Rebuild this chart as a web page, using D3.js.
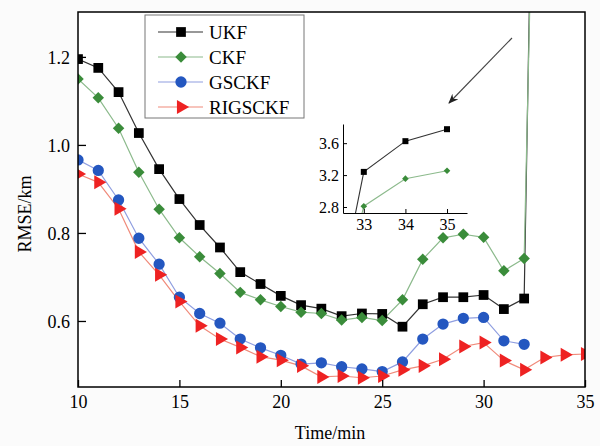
<!DOCTYPE html>
<html>
<head>
<meta charset="utf-8">
<script src="https://cdn.jsdelivr.net/npm/d3@7/dist/d3.min.js"></script>
<style>
  body { margin: 0; background: #fbfbfb; }
  svg { display: block; font-family: "Liberation Serif", "Times New Roman", serif; }
</style>
</head>
<body>
<svg id="chart" width="600" height="446"></svg>
<script>
// data (time in minutes, RMSE in km)
var times = [10,11,12,13,14,15,16,17,18,19,20,21,22,23,24,25,26,27,28,29,30,31,32,33,34,35];
var ukf    = [1.195,1.175,1.12,1.027,0.945,0.877,0.818,0.767,0.711,0.684,0.657,0.636,0.628,0.611,0.617,0.616,0.587,0.638,0.654,0.654,0.659,0.627,0.651,3.24,3.625,3.775];
var ckf    = [1.15,1.107,1.038,0.938,0.854,0.789,0.746,0.708,0.665,0.648,0.633,0.620,0.617,0.602,0.608,0.601,0.648,0.740,0.789,0.797,0.790,0.714,0.742,2.81,3.155,3.255];
var gsckf  = [0.966,0.942,0.875,0.788,0.729,0.654,0.617,0.595,0.559,0.539,0.522,0.502,0.505,0.496,0.491,0.485,0.507,0.559,0.593,0.606,0.608,0.555,0.547];
var rigsckf= [0.934,0.915,0.855,0.757,0.705,0.644,0.589,0.559,0.540,0.519,0.511,0.498,0.473,0.475,0.471,0.475,0.489,0.498,0.513,0.542,0.551,0.510,0.489,0.517,0.523,0.525];
var xTicks = [10,15,20,25,30,35];
var yTicks = [0.6,0.8,1.0,1.2];
var insetXTicks = [33,34,35];
var insetYTicks = [2.8,3.2,3.6];

var series = [
  {name:"UKF",     values:ukf,     line:"#333333", fill:"#000000", sym:d3.symbolSquare,   size:95,  rot:0},
  {name:"CKF",     values:ckf,     line:"#8cba8c", fill:"#3a8c3a", sym:d3.symbolSquare,   size:66,  rot:45},
  {name:"GSCKF",   values:gsckf,   line:"#8f9ee0", fill:"#2457c0", sym:d3.symbolCircle,   size:100, rot:0},
  {name:"RIGSCKF", values:rigsckf, line:"#f08a7a", fill:"#ee2222", sym:d3.symbolTriangle, size:85,  rot:90}
];

var svg = d3.select("#chart");
var pLeft = 78, pRight = 585, pTop = 12, pBottom = 387;

var x = d3.scaleLinear().domain([10,35]).range([pLeft,pRight]);
var y = d3.scaleLinear().domain([0.45,1.302]).range([pBottom,pTop]);

svg.append("clipPath").attr("id","plotClip")
  .append("rect").attr("x",pLeft).attr("y",pTop).attr("width",pRight-pLeft).attr("height",pBottom-pTop);

svg.append("rect").attr("x",pLeft).attr("y",pTop).attr("width",pRight-pLeft).attr("height",pBottom-pTop)
  .attr("fill","#ffffff");

function pts(s){
  return s.values.map(function(v,i){ return [times[i],v]; });
}

var plot = svg.append("g").attr("clip-path","url(#plotClip)");

series.forEach(function(s){
  var line = d3.line().x(function(d){ return x(d[0]); }).y(function(d){ return y(d[1]); });
  plot.append("path").datum(pts(s))
    .attr("d",line)
    .attr("fill","none")
    .attr("stroke",s.line)
    .attr("stroke-width",1.2);
});
series.forEach(function(s){
  plot.selectAll(".m"+s.name).data(pts(s)).enter()
    .append("path")
    .attr("d",d3.symbol().type(s.sym).size(s.size))
    .attr("transform",function(d){ return "translate("+x(d[0])+","+y(d[1])+") rotate("+s.rot+")"; })
    .attr("fill",s.fill);
});

// axes, ticks inward
var gx = svg.append("g").attr("transform","translate(0,"+pBottom+")")
  .call(d3.axisBottom(x).tickValues(xTicks).tickSizeInner(-7).tickSizeOuter(0).tickPadding(8));
var gy = svg.append("g").attr("transform","translate("+pLeft+",0)")
  .call(d3.axisLeft(y).tickValues(yTicks).tickFormat(d3.format(".1f")).tickSizeInner(-8).tickSizeOuter(0).tickPadding(8));
[gx,gy].forEach(function(g){
  g.select(".domain").remove();
  g.selectAll("line").attr("stroke","#000").attr("stroke-width",1.3);
  g.selectAll("text").attr("fill","#000").style("font-size","18px").style("font-family","Liberation Serif, serif");
});
gy.selectAll("text").attr("dy","0.35em");

svg.append("rect").attr("x",pLeft).attr("y",pTop).attr("width",pRight-pLeft).attr("height",pBottom-pTop)
  .attr("fill","none").attr("stroke","#000").attr("stroke-width",1.5);

svg.append("text")
  .attr("x",330).attr("y",439)
  .attr("text-anchor","middle")
  .style("font-size","18px")
  .text("Time/min");

svg.append("text")
  .attr("transform","translate(31,214) rotate(-90)")
  .attr("text-anchor","middle")
  .style("font-size","18px")
  .text("RMSE/km");

// legend
var legend = svg.append("g");
legend.append("rect").attr("x",145).attr("y",15).attr("width",159).attr("height",103)
  .attr("fill","#ffffff").attr("stroke","#777").attr("stroke-width",1);
series.forEach(function(s,i){
  var ly = 32 + i*25;
  legend.append("line").attr("x1",158).attr("x2",203).attr("y1",ly).attr("y2",ly)
    .attr("stroke",s.line).attr("stroke-width",1.2);
  legend.append("path")
    .attr("d",d3.symbol().type(s.sym).size(s.size))
    .attr("transform","translate(181,"+ly+") rotate("+s.rot+")")
    .attr("fill",s.fill);
  legend.append("text").attr("x",209).attr("y",ly).attr("dy","0.35em")
    .style("font-size","19px")
    .text(s.name);
});

// arrow pointing to the inset
svg.append("defs").append("marker")
  .attr("id","arrowHead").attr("viewBox","0 0 10 10")
  .attr("refX",9).attr("refY",5).attr("markerWidth",9).attr("markerHeight",9)
  .attr("orient","auto")
  .append("path").attr("d","M0,1 L10,5 L0,9 L3,5 Z").attr("fill","#222");
svg.append("line").attr("x1",512).attr("y1",38).attr("x2",449).attr("y2",103)
  .attr("stroke","#444").attr("stroke-width",1.1)
  .attr("marker-end","url(#arrowHead)");

// inset zoom on the last minutes
var iL = 343, iR = 467, iT = 124, iB = 213;
var ix = d3.scaleLinear().domain([32.5,35.48]).range([iL,iR]);
var iy = d3.scaleLinear().domain([2.725,3.84]).range([iB,iT]);

svg.append("clipPath").attr("id","insetClip")
  .append("rect").attr("x",iL).attr("y",iT-6).attr("width",iR-iL).attr("height",iB-iT+6);

var inset = svg.append("g").attr("clip-path","url(#insetClip)");
series.slice(0,2).forEach(function(s){
  var p = pts(s).filter(function(d){ return d[0] >= 32; });
  var line = d3.line().x(function(d){ return ix(d[0]); }).y(function(d){ return iy(d[1]); });
  inset.append("path").datum(p).attr("d",line)
    .attr("fill","none").attr("stroke",s.line).attr("stroke-width",1.1);
  inset.selectAll(".i"+s.name).data(p.filter(function(d){ return d[0] >= 33; })).enter()
    .append("path")
    .attr("d",d3.symbol().type(s.sym).size(s.name === "UKF" ? 36 : 22))
    .attr("transform",function(d){ return "translate("+ix(d[0])+","+iy(d[1])+") rotate("+s.rot+")"; })
    .attr("fill",s.fill);
});

var igx = svg.append("g").attr("transform","translate(0,"+iB+")")
  .call(d3.axisBottom(ix).tickValues(insetXTicks).tickFormat(d3.format("d")).tickSizeInner(-4).tickSizeOuter(0).tickPadding(6));
var igy = svg.append("g").attr("transform","translate("+iL+",0)")
  .call(d3.axisLeft(iy).tickValues(insetYTicks).tickFormat(d3.format(".1f")).tickSizeInner(-4).tickSizeOuter(0).tickPadding(4));
[igx,igy].forEach(function(g){
  g.select(".domain").attr("stroke","#000").attr("stroke-width",1);
  g.selectAll("line").attr("stroke","#000");
  g.selectAll("text").attr("fill","#000").style("font-size","16px").style("font-family","Liberation Serif, serif");
});
igy.selectAll("text").attr("dy","0.35em");
</script>
</body>
</html>
